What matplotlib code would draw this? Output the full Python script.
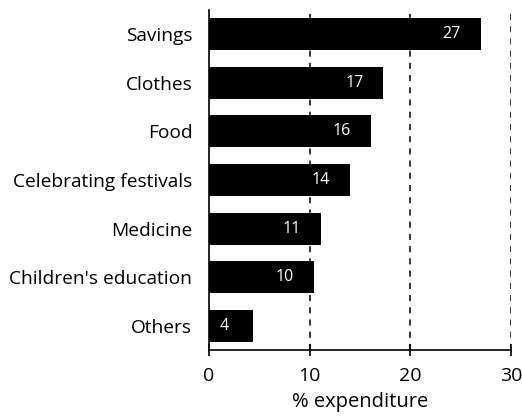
import matplotlib
matplotlib.use("Agg")
import matplotlib.pyplot as plt

categories = ["Savings", "Clothes", "Food", "Celebrating festivals", "Medicine",
              "Children's education", "Others"]
values = [27.0, 17.3, 16.1, 14.0, 11.1, 10.4, 4.4]
labels = ["27", "17", "16", "14", "11", "10", "4"]
xticks = [0, 10, 20, 30]

plt.rcParams['font.family'] = ['Open Sans', 'DejaVu Sans']

fig = plt.figure(figsize=(5.22, 4.16), dpi=100)
ax = fig.add_axes([0.4004, 0.1587, 0.979 - 0.4004, 0.976 - 0.1587])

y = list(range(len(categories)))
ax.barh(y, values, height=0.66, color='black', zorder=3)
for yi, v, lab in zip(y, values, labels):
    ax.annotate(lab, xy=(v, yi), xytext=(-29, 0), textcoords='offset pixels',
                ha='center', va='center', color='white', fontsize=11.5, zorder=4)

for xv in xticks[1:]:
    ax.axvline(xv, color='black', linestyle=(0, (4, 4)), linewidth=1.1, zorder=2)

ax.set_xlim(0, 30)
ax.set_ylim(6.5, -0.5)
ax.set_yticks(y)
ax.set_yticklabels(categories, fontsize=13.8)
ax.set_xticks(xticks)
ax.set_xticklabels([str(t) for t in xticks], fontsize=14)
ax.tick_params(axis='y', length=0, pad=12)
ax.tick_params(axis='x', direction='inout', length=9, width=1.2, pad=8)
ax.set_xlabel('% expenditure', fontsize=14.5, labelpad=5)

for s in ['top', 'right']:
    ax.spines[s].set_visible(False)
ax.spines['left'].set_linewidth(1.2)
ax.spines['bottom'].set_linewidth(1.2)

fig.savefig('out.png', dpi=100)
